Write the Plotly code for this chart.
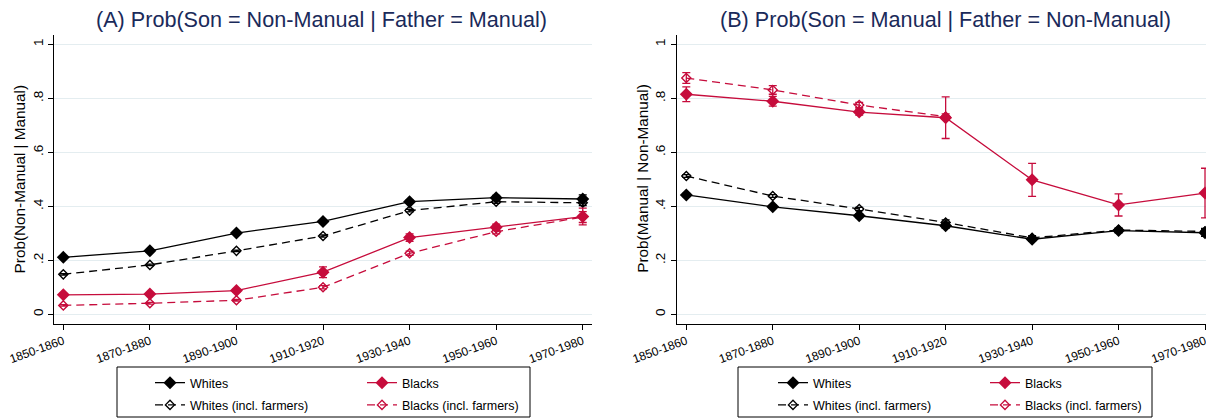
import plotly.graph_objects as go

# the page body adds an 8px margin at top/left, so the figure is drawn 8px smaller
OFF = 8
W, H = 1214 - OFF, 419 - OFF

cohorts = ['1850-1860', '1870-1880', '1890-1900', '1910-1920', '1930-1940', '1950-1960', '1970-1980']

# Panel A: Prob(Son = Non-Manual | Father = Manual)
a_whites = [0.211, 0.235, 0.301, 0.344, 0.417, 0.432, 0.427]
a_whites_err = [0.004, 0.004, 0.004, 0.005, 0.006, 0.008, 0.015]
a_whites_f = [0.148, 0.183, 0.235, 0.290, 0.384, 0.417, 0.413]
a_whites_f_err = [0.003, 0.003, 0.003, 0.004, 0.005, 0.006, 0.010]
a_blacks = [0.072, 0.075, 0.088, 0.156, 0.284, 0.322, 0.362]
a_blacks_err = [0.005, 0.005, 0.006, 0.020, 0.014, 0.012, 0.031]
a_blacks_f = [0.033, 0.041, 0.052, 0.100, 0.226, 0.306, 0.360]
a_blacks_f_err = [0.003, 0.003, 0.003, 0.006, 0.008, 0.008, 0.020]

# Panel B: Prob(Son = Manual | Father = Non-Manual)
b_whites = [0.442, 0.398, 0.365, 0.328, 0.278, 0.310, 0.302]
b_whites_err = [0.006, 0.006, 0.007, 0.010, 0.008, 0.008, 0.013]
b_whites_f = [0.512, 0.438, 0.390, 0.340, 0.283, 0.312, 0.307]
b_whites_f_err = [0.005, 0.005, 0.006, 0.010, 0.008, 0.007, 0.011]
b_blacks = [0.815, 0.789, 0.749, 0.728, 0.498, 0.405, 0.449]
b_blacks_err = [0.027, 0.018, 0.011, 0.077, 0.061, 0.041, 0.092]
b_blacks_f = [0.875, 0.831, 0.775, 0.732, None, None, None]
b_blacks_f_err = [0.020, 0.016, 0.010, 0.010, None, None, None]

BLACK = '#000000'
RED = '#c60c3c'
NAVY = '#1a2a5a'
GRID = '#e4edf0'
FONT = 'Liberation Sans, Arial, sans-serif'


def px_x(p):
    return (p - OFF) / W


def px_y(p):
    return 1 - (p - OFF) / H


fig = go.Figure()


def add_series(y, err, name, color, dash, filled, xa, ya, legend):
    fig.add_trace(go.Scatter(
        x=cohorts, y=y, name=name, mode='lines+markers',
        xaxis=xa, yaxis=ya, legend=legend, legendgroup=legend + name,
        line=dict(color=color, width=1.3, dash='8px,5px' if dash else 'solid'),
        marker=dict(symbol='diamond' if filled else 'diamond-open',
                    size=10 if filled else 7, color=color,
                    line=dict(color=color, width=1.4 if not filled else 0)),
        error_y=dict(type='data', array=err, visible=True, color=color,
                     thickness=1.3, width=4),
        hoverinfo='skip'))


# panel A
add_series(a_whites, a_whites_err, 'Whites', BLACK, False, True, 'x', 'y', 'legend')
add_series(a_whites_f, a_whites_f_err, 'Whites (incl. farmers)', BLACK, True, False, 'x', 'y', 'legend')
add_series(a_blacks, a_blacks_err, 'Blacks', RED, False, True, 'x', 'y', 'legend2')
add_series(a_blacks_f, a_blacks_f_err, 'Blacks (incl. farmers)', RED, True, False, 'x', 'y', 'legend2')
# panel B
add_series(b_whites, b_whites_err, 'Whites', BLACK, False, True, 'x2', 'y2', 'legend3')
add_series(b_whites_f, b_whites_f_err, 'Whites (incl. farmers)', BLACK, True, False, 'x2', 'y2', 'legend3')
add_series(b_blacks, b_blacks_err, 'Blacks', RED, False, True, 'x2', 'y2', 'legend4')
add_series(b_blacks_f, b_blacks_f_err, 'Blacks (incl. farmers)', RED, True, False, 'x2', 'y2', 'legend4')

xaxis_common = dict(type='category', showgrid=False, showline=True, linecolor=BLACK, linewidth=1,
                    ticks='outside', ticklen=5, tickcolor=BLACK, tickangle=-20, automargin=False,
                    tickfont=dict(size=12, color=BLACK), zeroline=False)
yaxis_common = dict(range=[-0.0348, 1.0344], tickvals=[0, 0.2, 0.4, 0.6, 0.8, 1],
                    ticktext=['0', '.2', '.4', '.6', '.8', '1'], tickangle=-90, automargin=False,
                    showgrid=True, gridcolor=GRID, gridwidth=1, showline=True, linecolor=BLACK,
                    linewidth=1, ticks='outside', ticklen=5, tickcolor=BLACK,
                    tickfont=dict(size=13.5, color=BLACK), zeroline=False,
                    domain=[px_y(323.7), px_y(35)])

legend_common = dict(orientation='v', bgcolor='rgba(0,0,0,0)', borderwidth=0,
                     font=dict(size=12.5, color=BLACK, family=FONT), tracegroupgap=3,
                     xanchor='left', yanchor='top', itemclick=False, itemdoubleclick=False)

fig.update_layout(
    width=W, height=H,
    margin=dict(l=0, r=0, t=0, b=0, autoexpand=False),
    paper_bgcolor='white', plot_bgcolor='white',
    font=dict(family=FONT, color=BLACK),
    xaxis=dict(xaxis_common, domain=[px_x(54.3), px_x(592)], range=[-0.104, 6.107], anchor='y'),
    yaxis=dict(yaxis_common, anchor='x'),
    xaxis2=dict(xaxis_common, domain=[px_x(676.7), px_x(1214)], range=[-0.111, 6.104], anchor='y2'),
    yaxis2=dict(yaxis_common, anchor='x2'),
    legend=dict(legend_common, x=px_x(150), y=px_y(368)),
    legend2=dict(legend_common, x=px_x(362), y=px_y(368)),
    legend3=dict(legend_common, x=px_x(773), y=px_y(368)),
    legend4=dict(legend_common, x=px_x(985), y=px_y(368)),
    showlegend=True,
)

# legend boxes
for x0, x1 in [(117, 530), (738, 1152)]:
    fig.add_shape(type='rect', xref='paper', yref='paper',
                  x0=px_x(x0), x1=px_x(x1), y0=px_y(417), y1=px_y(367),
                  line=dict(color=BLACK, width=1), fillcolor='rgba(0,0,0,0)')

# panel titles
fig.add_annotation(text='(A) Prob(Son = Non-Manual | Father = Manual)', xref='paper', yref='paper',
                   x=px_x(321.5), y=px_y(20), showarrow=False, xanchor='center', yanchor='middle',
                   font=dict(size=21.6, color=NAVY, family=FONT))
fig.add_annotation(text='(B) Prob(Son = Manual | Father = Non-Manual)', xref='paper', yref='paper',
                   x=px_x(945.5), y=px_y(20), showarrow=False, xanchor='center', yanchor='middle',
                   font=dict(size=21.6, color=NAVY, family=FONT))

# y axis titles
fig.add_annotation(text='Prob(Non-Manual | Manual)', xref='paper', yref='paper',
                   x=px_x(19.4), y=px_y(179), showarrow=False, textangle=-90,
                   xanchor='center', yanchor='middle', font=dict(size=15.3, color=BLACK, family=FONT))
fig.add_annotation(text='Prob(Manual | Non-Manual)', xref='paper', yref='paper',
                   x=px_x(641.7), y=px_y(179), showarrow=False, textangle=-90,
                   xanchor='center', yanchor='middle', font=dict(size=15.3, color=BLACK, family=FONT))

fig.write_html('out.html')
